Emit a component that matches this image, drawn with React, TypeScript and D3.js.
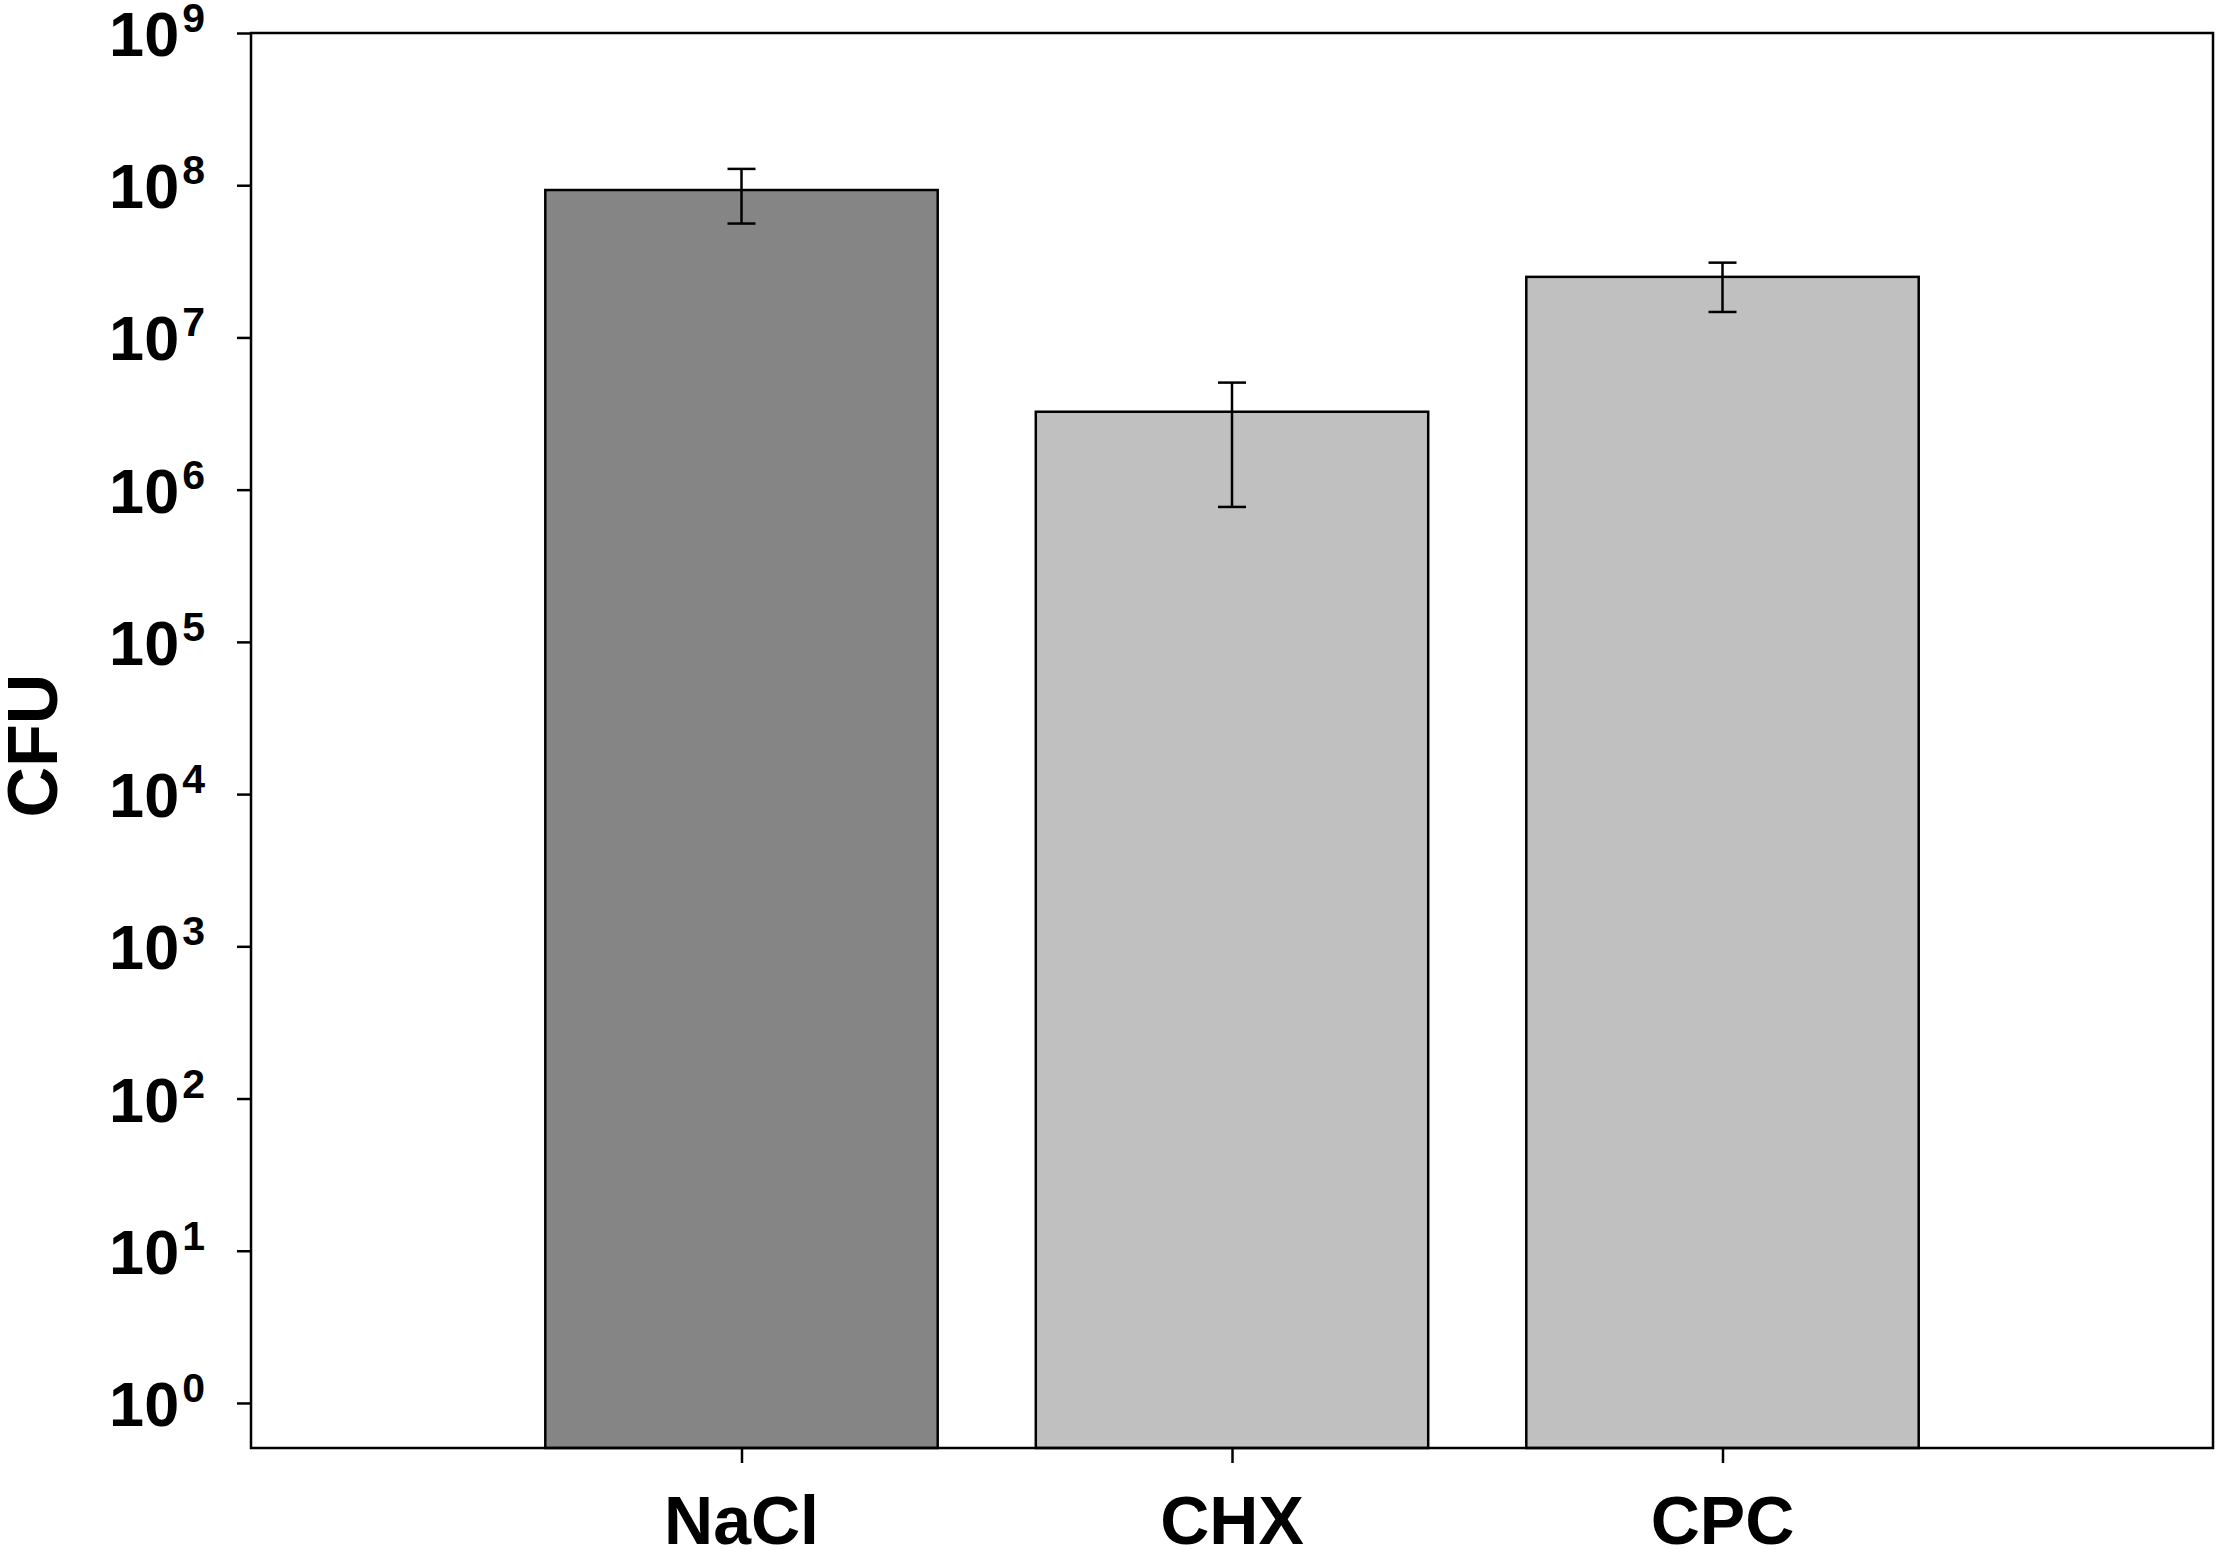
import React, { useEffect, useRef } from 'react';
import * as d3 from 'd3';

const categories = ['NaCl', 'CHX', 'CPC'];
const means = [9.3e7, 3.25e6, 2.5e7];
const errLow = [5.6e7, 7.7e5, 1.47e7];
const errHigh = [1.28e8, 5.05e6, 3.1e7];
const barColors = ['#858585', '#c0c0c0', '#c0c0c0'];
const yTickExps = [0, 1, 2, 3, 4, 5, 6, 7, 8, 9];

const WIDTH = 2218;
const HEIGHT = 1549;
const FONT = '"Liberation Sans", Arial, Helvetica, sans-serif';

const App: React.FC = () => {
  const ref = useRef<SVGSVGElement>(null);

  useEffect(() => {
    const svg = d3.select(ref.current).attr('width', WIDTH).attr('height', HEIGHT);
    svg.selectAll('*').remove();

    const left = 251;
    const right = 2213;
    const top = 33;
    const bottom = 1448;

    const x = d3.scalePoint<string>().domain(categories).range([left, right]).padding(1);
    const y = d3.scaleLog().domain([0.506, 1e9]).range([bottom, top]);
    const barWidth = x.step() * 0.8;

    const rows = categories.map((c, i) => ({
      name: c,
      mean: means[i],
      lo: errLow[i],
      hi: errHigh[i],
      color: barColors[i],
    }));

    // bars
    svg
      .append('g')
      .selectAll('rect')
      .data(rows)
      .join('rect')
      .attr('x', (d) => (x(d.name) as number) - barWidth / 2)
      .attr('y', (d) => y(d.mean))
      .attr('width', barWidth)
      .attr('height', (d) => bottom - y(d.mean))
      .attr('fill', (d) => d.color)
      .attr('stroke', '#000')
      .attr('stroke-width', 2.5);

    // error bars
    const err = svg.append('g').attr('stroke', '#000').attr('stroke-width', 2.5);
    const capHalf = 14;
    rows.forEach((d) => {
      const cx = x(d.name) as number;
      err.append('line').attr('x1', cx).attr('x2', cx).attr('y1', y(d.hi)).attr('y2', y(d.lo));
      err
        .append('line')
        .attr('x1', cx - capHalf)
        .attr('x2', cx + capHalf)
        .attr('y1', y(d.hi))
        .attr('y2', y(d.hi));
      err
        .append('line')
        .attr('x1', cx - capHalf)
        .attr('x2', cx + capHalf)
        .attr('y1', y(d.lo))
        .attr('y2', y(d.lo));
    });

    // frame
    svg
      .append('rect')
      .attr('x', left)
      .attr('y', top)
      .attr('width', right - left)
      .attr('height', bottom - top)
      .attr('fill', 'none')
      .attr('stroke', '#000')
      .attr('stroke-width', 2.5);

    // y axis ticks
    const yAxis = svg
      .append('g')
      .attr('transform', `translate(${left},0)`)
      .call(
        d3
          .axisLeft(y)
          .tickValues(yTickExps.map((e) => Math.pow(10, e)))
          .tickSize(14)
          .tickFormat(() => '')
      );
    yAxis.select('.domain').remove();
    yAxis.selectAll('.tick line').attr('stroke', '#000').attr('stroke-width', 2.5);

    const yLabels = svg
      .append('g')
      .attr('font-family', FONT)
      .attr('font-weight', 'bold')
      .attr('fill', '#000')
      .attr('text-anchor', 'end');
    yTickExps.forEach((e) => {
      const t = yLabels
        .append('text')
        .attr('x', 205)
        .attr('y', y(Math.pow(10, e)) + 23)
        .attr('font-size', 63);
      t.append('tspan').text('10');
      t.append('tspan').attr('dx', 3).attr('dy', -24).attr('font-size', 41).text(String(e));
    });

    // x axis ticks
    const xAxis = svg
      .append('g')
      .attr('transform', `translate(0,${bottom})`)
      .call(d3.axisBottom(x).tickSize(15).tickFormat(() => ''));
    xAxis.select('.domain').remove();
    xAxis.selectAll('.tick line').attr('stroke', '#000').attr('stroke-width', 2.5);

    svg
      .append('g')
      .attr('font-family', FONT)
      .attr('font-weight', 'bold')
      .attr('font-size', 68)
      .attr('text-anchor', 'middle')
      .selectAll('text')
      .data(categories)
      .join('text')
      .attr('x', (d) => x(d) as number)
      .attr('y', 1544)
      .text((d) => d);

    // y axis title
    svg
      .append('text')
      .attr('transform', `translate(57,${(top + bottom) / 2 + 5}) rotate(-90)`)
      .attr('font-family', FONT)
      .attr('font-weight', 'bold')
      .attr('font-size', 70)
      .attr('text-anchor', 'middle')
      .text('CFU');

    return () => {
      svg.selectAll('*').remove();
    };
  }, []);

  return <svg ref={ref} style={{ position: 'absolute', left: 0, top: 0, background: '#fff' }}></svg>;
};

export default App;
